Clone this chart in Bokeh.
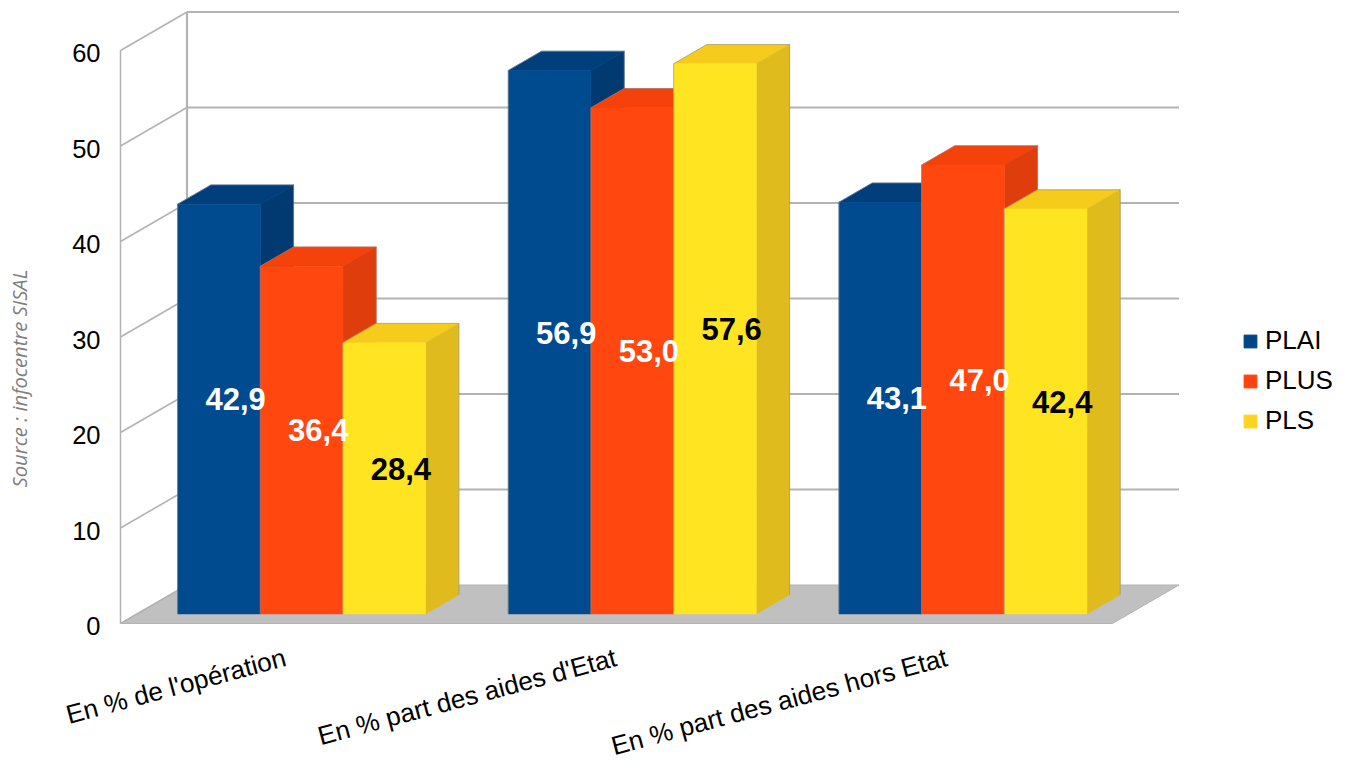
from bokeh.core.properties import value
from bokeh.embed import file_html
from bokeh.models import ColumnDataSource, FixedTicker, Label, LabelSet, Legend, LegendItem, Range1d
from bokeh.plotting import figure
from bokeh.resources import INLINE

categories = ["En % de l'opération", "En % part des aides d'Etat", "En % part des aides hors Etat"]
series_names = ["PLAI", "PLUS", "PLS"]
plai = [42.9, 56.9, 43.1]
plus = [36.4, 53.0, 47.0]
pls = [28.4, 57.6, 42.4]
y_ticks = [0, 10, 20, 30, 40, 50, 60]

series_values = [plai, plus, pls]
front_colors = ["#004a8f", "#ff470f", "#ffe422"]
top_colors = ["#003f7c", "#f4420a", "#f5cb1c"]
side_colors = ["#003a70", "#e03d0c", "#e0bb1e"]
legend_colors = ["#004586", "#ff420e", "#ffd320"]
label_colors = ["white", "white", "black"]

FONT = value("Liberation Sans")
WALL = "#b3b3b3"

# Oblique projection: the depth axis shifts a point right and up.
PX_PER_CAT = 992 / 3
PX_PER_UNIT = 9.55
DEPTH_X = 66.5 / PX_PER_CAT
DEPTH_Y = 38.5 / PX_PER_UNIT
BAR_W = 0.25
GROUP_PAD = 0.1225
Z_FRONT, Z_BACK = 0.25, 0.75

x_min, x_max = -120 / PX_PER_CAT, (1348 - 120) / PX_PER_CAT
y_min, y_max = (623 - 762) / PX_PER_UNIT, 623 / PX_PER_UNIT
TICK_LABEL_DROP = 0.3

p = figure(
    width=1348, height=762, output_backend="svg", toolbar_location=None,
    x_range=(x_min, x_max), y_range=(y_min, y_max),
    min_border=0, outline_line_color=None, background_fill_color="white",
)
p.extra_y_ranges = {"tick_labels": Range1d(y_min + TICK_LABEL_DROP, y_max + TICK_LABEL_DROP)}
p.xaxis.visible = False
p.xgrid.visible = False
p.ygrid.visible = False

axis = p.yaxis[0]
axis.y_range_name = "tick_labels"
axis.fixed_location = 0
axis.ticker = FixedTicker(ticks=y_ticks)
axis.axis_line_color = None
axis.major_tick_line_color = None
axis.minor_tick_line_color = None
axis.major_label_standoff = 14
axis.major_label_text_font = "Liberation Sans"
axis.major_label_text_font_size = "25.5px"
axis.major_label_text_color = "black"


def project(x, v, z):
    return x + z * DEPTH_X, v + z * DEPTH_Y


# Floor
corners = [project(0, 0, 0), project(0, 0, 1), project(3, 0, 1), project(3, 0, 0)]
p.patch([c[0] for c in corners], [c[1] for c in corners],
        fill_color="#c0c0c0", line_color="#b3b3b3", line_width=1)

# Back wall grid lines and the diagonals of the side wall
top_z = project(0, 0, 1)
p.multi_line(
    xs=[[top_z[0], project(3, 0, 1)[0]] for _ in y_ticks[1:]],
    ys=[[project(0, t, 1)[1]] * 2 for t in y_ticks[1:]],
    line_color=WALL, line_width=2.2,
)
p.multi_line(
    xs=[[0, top_z[0]] for _ in y_ticks],
    ys=[[t, project(0, t, 1)[1]] for t in y_ticks],
    line_color=WALL, line_width=1.6,
)
p.line([top_z[0], top_z[0]], [project(0, 0, 1)[1], project(0, max(y_ticks), 1)[1]],
       line_color=WALL, line_width=2.2)
p.line([0, 0], [min(y_ticks), max(y_ticks)], line_color=WALL, line_width=1.5)

# Bars, painted from left to right so nearer faces hide the ones behind them
for g in range(len(categories)):
    for s in range(len(series_names)):
        v = series_values[s][g]
        x0 = g + GROUP_PAD + s * BAR_W
        x1 = x0 + BAR_W
        faces = [
            ([(x0, v, Z_FRONT), (x1, v, Z_FRONT), (x1, v, Z_BACK), (x0, v, Z_BACK)], top_colors[s]),
            ([(x1, 0, Z_FRONT), (x1, v, Z_FRONT), (x1, v, Z_BACK), (x1, 0, Z_BACK)], side_colors[s]),
            ([(x0, 0, Z_FRONT), (x1, 0, Z_FRONT), (x1, v, Z_FRONT), (x0, v, Z_FRONT)], front_colors[s]),
        ]
        for pts, color in faces:
            pr = [project(*q) for q in pts]
            p.patch([q[0] for q in pr], [q[1] for q in pr],
                    fill_color=color, line_color=color, line_width=0.6)
        edge = [project(*q) for q in [(x0, 0, Z_FRONT), (x0, v, Z_FRONT), (x0, v, Z_BACK),
                                      (x1, v, Z_BACK), (x1, 0, Z_BACK)]]
        p.line([q[0] for q in edge], [q[1] for q in edge],
               line_color="#8c8c8c", line_alpha=0.55, line_width=1)

# Value labels sit at the middle of each bar's volume
lab_x, lab_y, lab_text, lab_color = [], [], [], []
for s in range(len(series_names)):
    for g in range(len(categories)):
        v = series_values[s][g]
        lx, ly = project(g + GROUP_PAD + (s + 0.5) * BAR_W, v / 2, 0.5)
        lab_x.append(lx)
        lab_y.append(ly)
        lab_text.append(f"{v:.1f}".replace(".", ","))
        lab_color.append(label_colors[s])
p.text(lab_x, lab_y, text=lab_text, text_color=lab_color, text_font=FONT,
       text_font_size="31px", text_font_style="bold",
       text_align="center", text_baseline="middle")

# Slanted category labels ending under each group's centre
cat_source = ColumnDataSource(dict(
    x=[i + 0.505 for i in range(len(categories))],
    y=[-4.4] * len(categories),
    text=categories,
))
p.add_layout(LabelSet(
    x="x", y="y", text="text", source=cat_source, angle=15, angle_units="deg",
    text_align="right", text_baseline="alphabetic",
    text_font=FONT, text_font_size="26.2px", text_color="black",
))

# Source note along the left edge
p.add_layout(Label(
    x=18, y=762 - 487, x_units="screen", y_units="screen",
    text="Source : infocentre SISAL", angle=90, angle_units="deg",
    text_align="left", text_baseline="alphabetic",
    text_font="Open Sans", text_font_style="italic",
    text_font_size="20.2px", text_color="#808080",
))

# Legend
nan = float("nan")
swatches = [
    p.quad(left=[nan], right=[nan], top=[nan], bottom=[nan], fill_color=c, line_color=c)
    for c in legend_colors
]
legend = Legend(
    items=[LegendItem(label=n, renderers=[r]) for n, r in zip(series_names, swatches)],
    location=(1242, 326),
    orientation="vertical", glyph_width=16, glyph_height=16, spacing=9,
    label_standoff=7, padding=0, margin=0, border_line_color=None,
    background_fill_alpha=0, label_text_font="Liberation Sans",
    label_text_font_size="26px", label_text_color="black",
)
p.add_layout(legend, "center")

open("out.html", "w").write(file_html(p, INLINE))
